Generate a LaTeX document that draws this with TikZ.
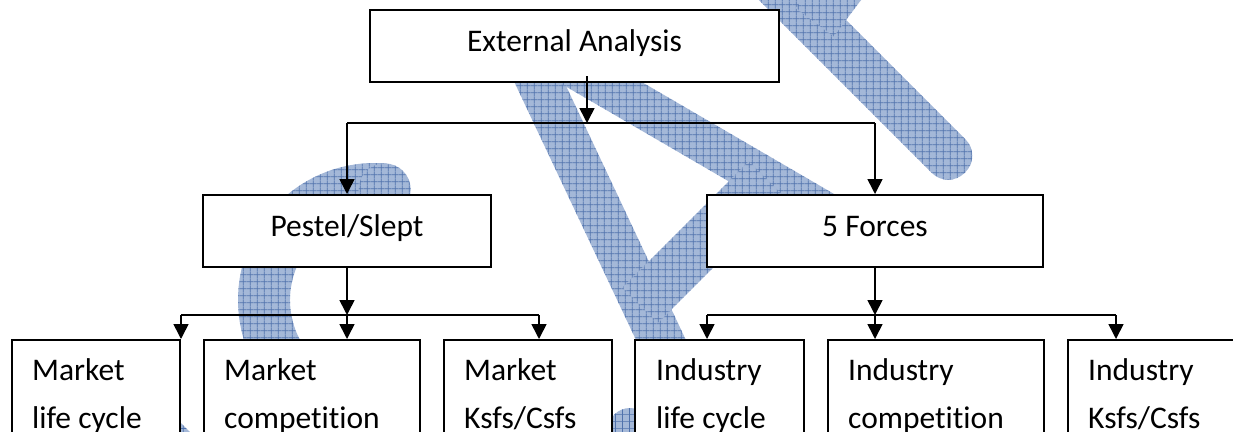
\documentclass[tikz,border=0pt]{standalone}
\usepackage{fontspec}
\setmainfont{Carlito}[Ligatures={NoCommon,NoContextual}]
\usetikzlibrary{arrows.meta,patterns.meta,calc}

\definecolor{wmfill}{RGB}{164,184,216}
\definecolor{wmline}{RGB}{80,114,172}

\tikzdeclarepattern{
  name=wmgrid,
  bounding box={(0pt,0pt) and (7.3pt,7.3pt)},
  tile size={(7.3pt,7.3pt)},
  code={
    \draw[line width=0.8pt] (0pt,3.65pt) -- (7.3pt,3.65pt);
    \draw[line width=0.8pt] (3.65pt,0pt) -- (3.65pt,7.3pt);
  }
}

\begin{document}
\begin{tikzpicture}[x=1pt,y=-1pt,
  wm/.style={fill=wmfill, postaction={pattern=wmgrid, pattern color=wmline}},
  box/.style={draw=black, line width=2pt, fill=white, inner sep=0pt},
  topbox/.style={box, minimum height=72pt, font=\fontsize{31.5}{38}\selectfont, text height=18pt, text depth=8pt},
  lowbox/.style={box, anchor=north west, minimum height=140pt},
  lbl/.style={font=\fontsize{31.5}{48}\selectfont, anchor=base west, inner sep=0pt},
  conn/.style={line width=1.6pt},
  arr/.style={conn, -{Triangle[length=15pt,width=15pt]}}
]
\useasboundingbox (0,0) rectangle (1233,431);
\clip (0,0) rectangle (1233,431);
\fill[white] (0,0) rectangle (1233,431);

% ---- background watermark ----
\path[wm, rounded corners=22pt] (530.4,10.4) -- (747.4,470.4) -- (706.6,489.6) -- (489.6,29.6) -- cycle;
\path[wm, rounded corners=20.5pt] (555.6,31.9) -- (902.6,233.9) -- (881.4,270.2) -- (534.4,68.2) -- cycle;
\path[wm] (622.3,287.8) -- (748.8,161.3) -- (784.2,196.7) -- (657.7,323.2) -- cycle;
\path[wm, rounded corners=23pt] (756.8,-69.3) -- (981.8,155.7) -- (948.2,189.3) -- (723.2,-35.8) -- cycle;
\path[wm] (795.7,8.0) -- (833.7,36.4) -- (923.7,-83.6) -- (885.7,-112) -- cycle;
\begin{scope}[shift={(375,300)}]
  \path[wm] (85:137pt) arc[start angle=85, end angle=250, radius=137pt]
     -- (250:85pt) arc[start angle=250, end angle=85, radius=85pt] -- cycle;
  \path[wm] (85:111pt) circle[radius=26pt];
\end{scope}
\path[wm] (150,392) -- (250,492) -- (233,509) -- (133,409) -- cycle;
\path[wm] (630,430) circle[radius=22pt];

% ---- boxes ----
\node[topbox, minimum width=409pt] (ea) at (574.5,46) {External Analysis};
\node[topbox, minimum width=288pt] (pes) at (347,231) {Pestel/Slept};
\node[topbox, minimum width=336pt] (fiv) at (875,231) {5 Forces};

\node[lowbox, minimum width=168pt] (mlc) at (11,339) {};
\node[lowbox, minimum width=216pt] (mco) at (203,339) {};
\node[lowbox, minimum width=168pt] (mks) at (443,339) {};
\node[lowbox, minimum width=169pt] (ilc) at (634,339) {};
\node[lowbox, minimum width=216pt] (ico) at (827,339) {};
\node[lowbox, minimum width=220pt] (iks) at (1067,339) {};

\node[lbl] (tmlc) at ($(mlc.north west)+(21,41)$) {\parbox[t]{160pt}{Market\\life cycle}};
\node[lbl] (tmco) at ($(mco.north west)+(21,41)$) {\parbox[t]{190pt}{Market\\competition}};
\node[lbl] (tmks) at ($(mks.north west)+(21,41)$) {\parbox[t]{160pt}{Market\\Ksfs/Csfs}};
\node[lbl] (tilc) at ($(ilc.north west)+(22,41)$) {\parbox[t]{160pt}{Industry\\life cycle}};
\node[lbl] (tico) at ($(ico.north west)+(21,41)$) {\parbox[t]{190pt}{Industry\\competition}};
\node[lbl] (tiks) at ($(iks.north west)+(21,41)$) {\parbox[t]{160pt}{Industry\\Ksfs/Csfs}};

% ---- connectors ----
\coordinate (j1) at (587,123);
\draw[arr] ($(ea.south)+(12.5,-7)$) -- (j1);
\draw[conn] (j1 -| pes.north) -- (j1 -| fiv.north);
\draw[arr] (j1 -| pes.north) -- (pes.north);
\draw[arr] (j1 -| fiv.north) -- (fiv.north);

\coordinate (j2) at (347,315);
\coordinate (k3) at (539,315);
\draw[arr] (pes.south) -- (j2);
\draw[conn] (j2 -| mlc.north east) -- (k3);
\draw[arr] (j2 -| mlc.north east) -- (mlc.north east);
\draw[arr] (j2) -- (j2 |- mco.north);
\draw[arr] (k3) -- (k3 |- mks.north);

\coordinate (j3) at (875,315);
\coordinate (k4) at (707,315);
\coordinate (k6) at (1116,315);
\coordinate (t1) at (970,315);
\draw[arr] (fiv.south) -- (j3);
\draw[conn] (k4) -- (k6);
\draw[line width=2.8pt] (t1) -- (t1 -| ico.north east);
\draw[arr] (k4) -- (k4 |- ilc.north);
\draw[arr] (j3) -- (j3 |- ico.north);
\draw[arr] (k6) -- (k6 |- iks.north);
\end{tikzpicture}
\end{document}
